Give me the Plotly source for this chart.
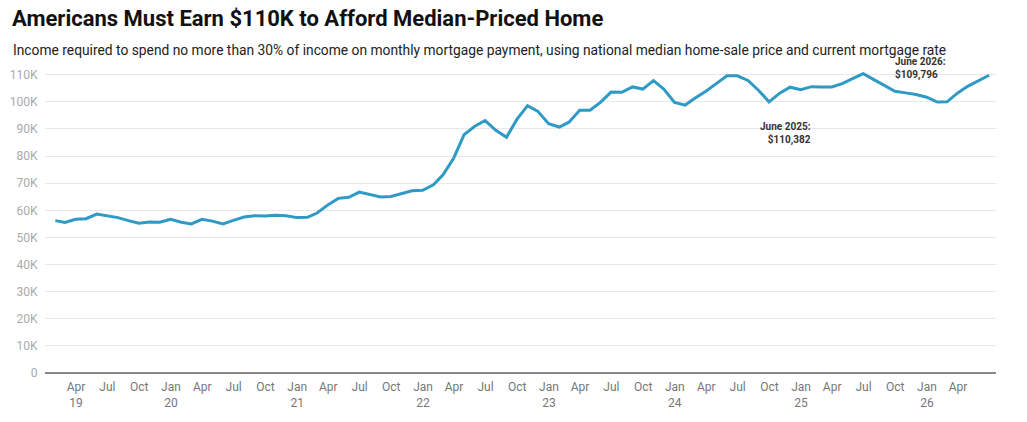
import pandas as pd
import plotly.graph_objects as go

# monthly income needed (thousands of $), Jan 2019 - Jun 2026, month-end dates
income_k = [
    56.2, 55.5, 56.7, 56.9, 58.6, 57.9, 57.3, 56.2, 55.2, 55.7, 55.6, 56.7,
    55.6, 55.0, 56.7, 56.0, 55.0, 56.3, 57.5, 58.0, 57.9, 58.2, 58.0, 57.3,
    57.4, 59.0, 62.0, 64.4, 64.8, 66.7, 65.9, 64.9, 65.1, 66.2, 67.2, 67.4,
    69.4, 73.1, 79.3, 87.9, 91.0, 93.1, 89.5, 86.9, 93.5, 98.6, 96.5, 91.9,
    90.7, 92.5, 96.9, 96.9, 99.9, 103.6, 103.5, 105.5, 104.7, 107.8, 104.7, 99.8,
    98.8, 101.4, 103.9, 106.7, 109.6, 109.6, 107.9, 104.2, 100.0, 103.2, 105.4, 104.5,
    105.6, 105.5, 105.5, 106.7, 108.5, 110.4, 108.2, 106.0, 103.9, 103.3, 102.7, 101.7,
    99.9, 100.0, 103.3, 105.8, 107.9, 109.8,
]
dates = pd.date_range("2019-01-31", periods=len(income_k), freq="ME")

tick_dates = pd.date_range("2019-04-01", "2026-04-01", freq="QS")
tick_text = []
for d in tick_dates:
    lab = d.strftime("%b")
    if d.month == 1 or d == tick_dates[0]:
        lab += "<br>" + d.strftime("%y")
    tick_text.append(lab)

y_vals = list(range(0, 110001, 10000))
y_text = ["0"] + [f"{v // 1000}K" for v in y_vals[1:]]

fig = go.Figure()
fig.add_trace(go.Scatter(
    x=dates, y=[v * 1000 for v in income_k], mode="lines",
    line=dict(color="#2f9ac5", width=3), hoverinfo="skip",
))

fig.add_annotation(x=dates[77], y=income_k[77] * 1000, text="<b>June 2025:<br>$110,382</b>",
                   xref="x", yref="y", showarrow=False, xanchor="right", yanchor="top",
                   align="right", xshift=-50, yshift=-45,
                   font=dict(family="Roboto", size=10, color="#333"))
fig.add_annotation(x=dates[89], y=income_k[89] * 1000, text="<b>June 2026:<br>$109,796</b>",
                   xref="x", yref="y", showarrow=False, xanchor="left", yanchor="bottom",
                   align="left", xshift=-96, yshift=-8,
                   font=dict(family="Roboto", size=10, color="#333"))

fig.update_layout(
    width=1027, height=422,
    margin=dict(l=45, r=31, t=72, b=49),
    paper_bgcolor="white", plot_bgcolor="white",
    showlegend=False,
    font=dict(family="Roboto", color="#333"),
    title=dict(text="<b>Americans Must Earn $110K to Afford Median-Priced Home</b>",
               x=12 / 1027, xanchor="left", xref="container",
               y=1 - 11 / 422, yanchor="top", yref="container",
               font=dict(family="Roboto", size=22, color="#111")),
)
fig.add_annotation(text="Income required to spend no more than 30% of income on monthly mortgage payment, "
                        "using national median home-sale price and current mortgage rate",
                   xref="paper", yref="paper", x=-34 / 951, y=(373 - 40) / 301,
                   xanchor="left", yanchor="top",
                   showarrow=False, font=dict(family="Roboto", size=13.8, color="#222"))

fig.update_xaxes(
    range=["2019-01-01", "2026-07-20"],
    tickvals=tick_dates, ticktext=tick_text,
    showgrid=False, showline=False, zeroline=False, automargin=False,
    ticks="outside", ticklen=3, tickcolor="rgba(0,0,0,0)",
    tickfont=dict(family="Roboto", size=12, color="#777"),
)
fig.update_yaxes(
    range=[0, 111000],
    tickvals=y_vals, ticktext=y_text,
    showgrid=True, gridcolor="#e8e8e8", gridwidth=1,
    zeroline=True, zerolinecolor="#888", zerolinewidth=2, automargin=False,
    ticks="outside", ticklen=4, tickcolor="rgba(0,0,0,0)",
    tickfont=dict(family="Roboto", size=12, color="#aaa"),
)

# drop the default page margin so the figure sits at the window's corner
fig.write_html("out.html", config={"displayModeBar": False},
               post_script="document.body.style.margin='0';")
